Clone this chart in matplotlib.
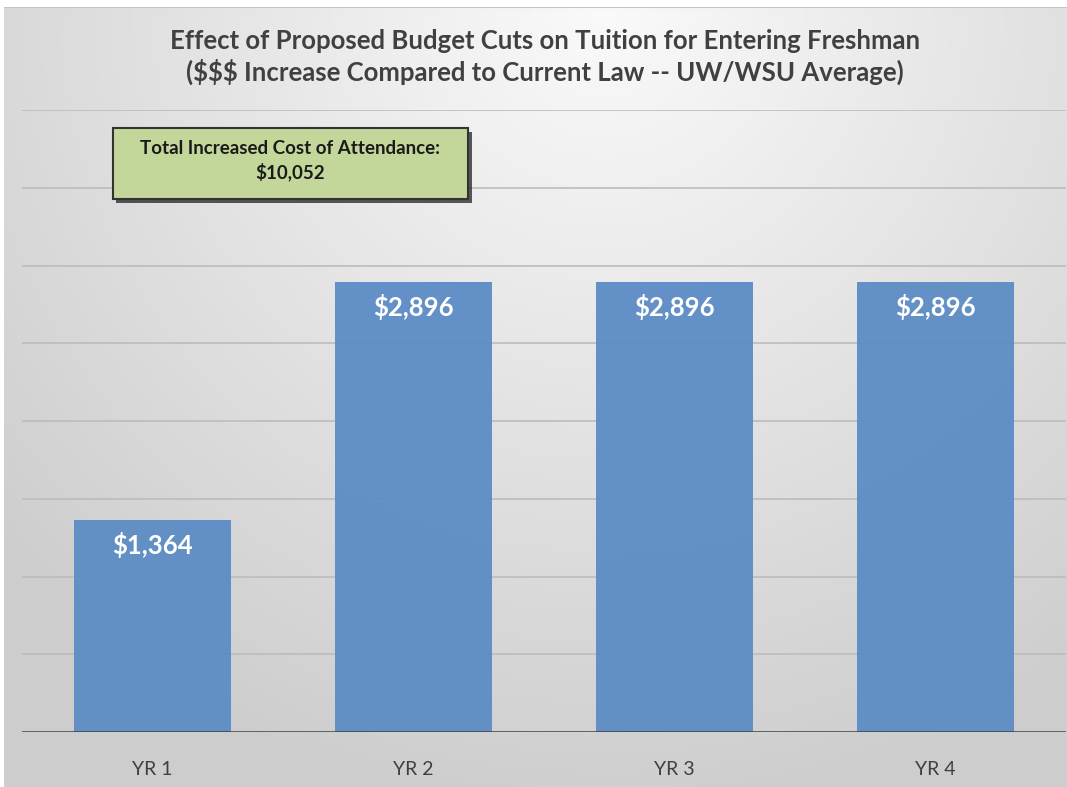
import numpy as np
import matplotlib.pyplot as plt
from matplotlib.patches import Rectangle

anos = ['YR 1', 'YR 2', 'YR 3', 'YR 4']
aumento = [1364, 2896, 2896, 2896]
rotulos = ['$1,364', '$2,896', '$2,896', '$2,896']
total_texto = 'Total Increased Cost of Attendance:\n$10,052'

titulo = ('Effect of Proposed Budget Cuts on Tuition for Entering Freshman\n'
          '($$$ Increase Compared to Current Law -- UW/WSU Average)')

plt.rcParams['font.family'] = ['Lato', 'DejaVu Sans']

W, H = 1067, 787
fig = plt.figure(figsize=(W / 100, H / 100), dpi=100)
fig.patch.set_facecolor('white')

# fundo com gradiente (claro no topo, cinza embaixo)
bg = fig.add_axes([4 / W, 0, 1 - 4 / W, 1 - 7 / H])
yy, xx = np.mgrid[0:780, 0:1063]
dist = np.sqrt((xx - 600.0) ** 2 + (yy * 1.0) ** 2)
tom = np.clip(250 - dist * 33 / 600, 205, 250) / 255.0
img = np.dstack([tom, tom, tom])
bg.imshow(img, aspect='auto', extent=[0, 1, 0, 1])
bg.axis('off')
bg.axhline(1, color='#c4c4c4', lw=1.5)

ax = fig.add_axes([22 / W, 1 - 732 / H, 1044 / W, (732 - 110) / H])
ax.set_facecolor('none')
x = np.arange(len(anos))
ax.set_xlim(-0.5, len(anos) - 0.5)
ax.set_ylim(0, 4000)

for v in range(500, 4001, 500):
    ax.axhline(v, color='#bcbcbc', lw=1.2, zorder=1)

barras = ax.bar(x, aumento, width=0.6, color='#5b8bc4', alpha=0.94, zorder=2)
for i, b in enumerate(barras):
    ax.annotate(rotulos[i], (b.get_x() + b.get_width() / 2, b.get_height()),
                xytext=(0, -9), textcoords='offset points', ha='center', va='top',
                color='white', fontsize=18.5, fontweight='bold', zorder=3)

ax.axhline(0, color='#404040', lw=1.8, zorder=4)
for s in ax.spines.values():
    s.set_visible(False)
ax.set_yticks([])
ax.set_xticks(x)
ax.set_xticklabels(anos, fontsize=14, color='#404040')
ax.tick_params(axis='x', length=0, pad=21)

fig.text(545 / W, 1 - 57 / H, titulo, ha='center', va='center', fontsize=18.5,
         fontweight='bold', color='#404040', linespacing=1.3)

# caixa verde com sombra
sombra = Rectangle((116 / W, 1 - 203 / H), 356 / W, 71 / H, transform=fig.transFigure,
                   facecolor='#222222', edgecolor='none', alpha=0.75)
fig.patches.append(sombra)
caixa = Rectangle((113 / W, 1 - 199 / H), 355 / W, 71 / H, transform=fig.transFigure,
                  facecolor='#c4d79b', edgecolor='#333333', lw=1.5)
fig.patches.append(caixa)
fig.text(290 / W, 1 - 161 / H, total_texto, ha='center', va='center', fontsize=13.5,
         fontweight='bold', color='#1a1a1a', linespacing=1.35)

fig.savefig('out.png', dpi=100)
